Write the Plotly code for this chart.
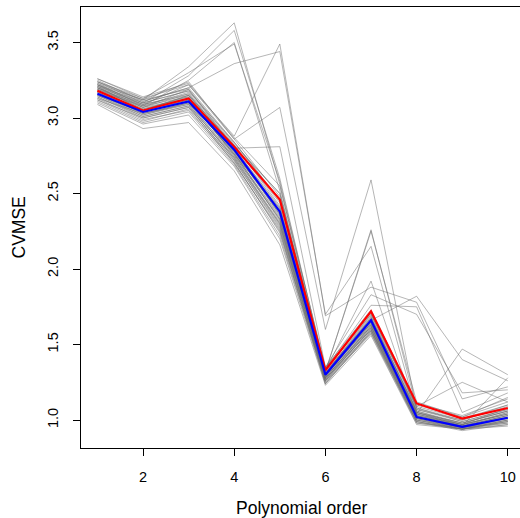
import plotly.graph_objects as go

orders = [1, 2, 3, 4, 5, 6, 7, 8, 9, 10]

# Individual (grey) CV runs
gray_runs = [
    [3.20, 3.08, 3.14, 2.78, 2.36, 1.29, 1.65, 1.04, 0.96, 1.03],
    [3.15, 3.02, 3.10, 2.74, 2.30, 1.27, 1.62, 1.02, 0.95, 1.01],
    [3.24, 3.10, 3.18, 2.82, 2.42, 1.31, 1.68, 1.06, 0.98, 1.06],
    [3.12, 3.00, 3.07, 2.72, 2.28, 1.26, 1.60, 1.00, 0.94, 0.99],
    [3.18, 3.05, 3.12, 2.76, 2.34, 1.30, 1.66, 1.03, 0.97, 1.04],
    [3.26, 3.13, 3.22, 2.86, 2.48, 1.33, 1.70, 1.08, 1.00, 1.09],
    [3.10, 2.96, 3.02, 2.68, 2.20, 1.24, 1.58, 0.98, 0.94, 0.98],
    [3.22, 3.07, 3.16, 2.80, 2.40, 1.30, 1.64, 1.05, 0.96, 1.05],
    [3.17, 3.04, 3.11, 2.77, 2.32, 1.28, 1.63, 1.01, 0.95, 1.02],
    [3.14, 3.01, 3.08, 2.70, 2.25, 1.25, 1.59, 0.99, 0.93, 0.97],
    [3.21, 3.09, 3.15, 2.79, 2.38, 1.32, 1.67, 1.07, 0.99, 1.07],
    [3.19, 3.06, 3.13, 2.75, 2.33, 1.29, 1.64, 1.02, 0.96, 1.03],
    [3.09, 2.93, 2.97, 2.65, 2.16, 1.23, 1.56, 0.97, 0.94, 0.96],
    [3.25, 3.11, 3.20, 2.84, 2.45, 1.34, 1.71, 1.09, 1.01, 1.10],
    [3.16, 3.03, 3.09, 2.73, 2.29, 1.27, 1.61, 1.01, 0.95, 1.00],
    [3.23, 3.08, 3.17, 2.81, 2.44, 1.31, 1.69, 1.06, 0.97, 1.08],
    [3.13, 2.99, 3.05, 2.71, 2.24, 1.26, 1.58, 0.99, 0.94, 0.99],
    [3.20, 3.06, 3.14, 2.77, 2.37, 1.30, 1.65, 1.04, 0.97, 1.04],
    [3.18, 3.04, 3.12, 2.76, 2.35, 1.28, 1.63, 1.03, 0.96, 1.02],
    [3.11, 2.97, 3.04, 2.69, 2.22, 1.25, 1.57, 0.98, 0.95, 0.98],
    [3.24, 3.12, 3.19, 2.83, 2.50, 1.33, 1.72, 1.10, 1.02, 1.12],
    [3.15, 3.01, 3.08, 2.74, 2.31, 1.27, 1.60, 1.00, 0.94, 1.00],
    [3.22, 3.09, 3.16, 2.80, 2.41, 1.31, 1.67, 1.05, 0.98, 1.06],
    [3.17, 3.03, 3.10, 2.75, 2.33, 1.28, 1.62, 1.02, 0.95, 1.01],
    [3.12, 2.98, 3.06, 2.70, 2.26, 1.24, 1.59, 0.99, 0.94, 0.97],
    [3.19, 3.07, 3.13, 2.78, 2.39, 1.30, 1.66, 1.04, 0.97, 1.04],
    [3.26, 3.14, 3.23, 2.87, 2.55, 1.35, 1.73, 1.11, 1.03, 1.14],
    [3.14, 3.00, 3.07, 2.72, 2.27, 1.26, 1.61, 1.00, 0.95, 0.99],
    [3.21, 3.05, 3.15, 2.79, 2.36, 1.29, 1.64, 1.03, 0.96, 1.03],
    [3.16, 3.02, 3.09, 2.73, 2.30, 1.27, 1.60, 1.01, 0.94, 1.00],
    [3.22, 3.12, 3.34, 3.63, 2.56, 1.30, 1.68, 1.05, 0.98, 1.06],
    [3.20, 3.10, 3.28, 3.58, 2.60, 1.32, 2.26, 1.08, 0.99, 1.07],
    [3.18, 3.08, 3.25, 3.50, 2.52, 1.29, 1.66, 1.82, 1.40, 1.26],
    [3.24, 3.13, 3.30, 3.49, 2.58, 1.33, 1.92, 1.04, 1.47, 1.30],
    [3.21, 3.11, 3.20, 3.36, 3.44, 1.70, 2.15, 1.05, 0.97, 1.05],
    [3.19, 3.09, 3.22, 2.88, 3.49, 1.69, 1.88, 1.78, 1.14, 1.22],
    [3.23, 3.12, 3.24, 2.86, 3.07, 1.60, 2.59, 1.07, 1.00, 1.10],
    [3.20, 3.07, 3.19, 2.80, 2.81, 1.35, 1.83, 1.70, 1.18, 1.20],
    [3.17, 3.05, 3.15, 2.82, 2.50, 1.32, 2.25, 1.12, 1.02, 1.15],
    [3.15, 3.04, 3.12, 2.76, 2.40, 1.34, 1.76, 1.75, 1.05, 1.18],
    [3.22, 3.10, 3.18, 2.84, 2.46, 1.31, 1.70, 1.09, 1.25, 1.12],
    [3.13, 3.03, 3.10, 2.78, 2.38, 1.28, 1.62, 1.02, 0.96, 1.28],
]

red_cvmse = [3.18, 3.05, 3.13, 2.81, 2.46, 1.33, 1.72, 1.11, 1.01, 1.08]
blue_cvmse = [3.16, 3.04, 3.11, 2.79, 2.38, 1.30, 1.66, 1.02, 0.955, 1.015]

x_ticks = [2, 4, 6, 8, 10]
y_ticks = [1.0, 1.5, 2.0, 2.5, 3.0, 3.5]

FONT = "Liberation Sans, Arial, Helvetica, sans-serif"

fig = go.Figure()
for run in gray_runs:
    fig.add_trace(go.Scatter(x=orders, y=run, mode="lines",
                             line=dict(color="rgba(110,110,110,0.5)", width=1),
                             showlegend=False, hoverinfo="skip"))
fig.add_trace(go.Scatter(x=orders, y=red_cvmse, mode="lines",
                         line=dict(color="#ff0000", width=2.2), showlegend=False))
fig.add_trace(go.Scatter(x=orders, y=blue_cvmse, mode="lines",
                         line=dict(color="#0000ff", width=2.2), showlegend=False))

fig.update_layout(
    width=520, height=518,
    margin=dict(l=81, r=0, t=7, b=70, autoexpand=False),
    paper_bgcolor="white", plot_bgcolor="white",
    font=dict(family=FONT, color="black", size=14.5),
    xaxis=dict(range=[0.64, 10.267], tickvals=x_ticks, ticktext=[str(v) for v in x_ticks],
               showgrid=False, zeroline=False, showline=True, linecolor="black",
               linewidth=1, mirror=True, ticks="outside", ticklen=7, tickcolor="black",
               ticklabelstandoff=9, tickfont=dict(size=14.5), automargin=False),
    yaxis=dict(range=[0.815, 3.735], tickvals=y_ticks, ticktext=[f"{v:.1f}" for v in y_ticks],
               showgrid=False, zeroline=False, showline=True, linecolor="black",
               linewidth=1, ticks="outside", ticklen=7, tickcolor="black",
               tickangle=-90, ticklabelstandoff=9, tickfont=dict(size=14.5), automargin=False),
    annotations=[
        dict(text="Polynomial order", xref="paper", yref="paper", x=0.503, y=-0.136,
             xanchor="center", yanchor="middle", showarrow=False, font=dict(size=17.5)),
        dict(text="CVMSE", xref="paper", yref="paper", x=-0.1435, y=0.5,
             xanchor="center", yanchor="middle", textangle=-90, showarrow=False,
             font=dict(size=17.5)),
    ],
)

fig.write_html("out.html", config={"displayModeBar": False},
               post_script="document.body.style.margin='0px';")
